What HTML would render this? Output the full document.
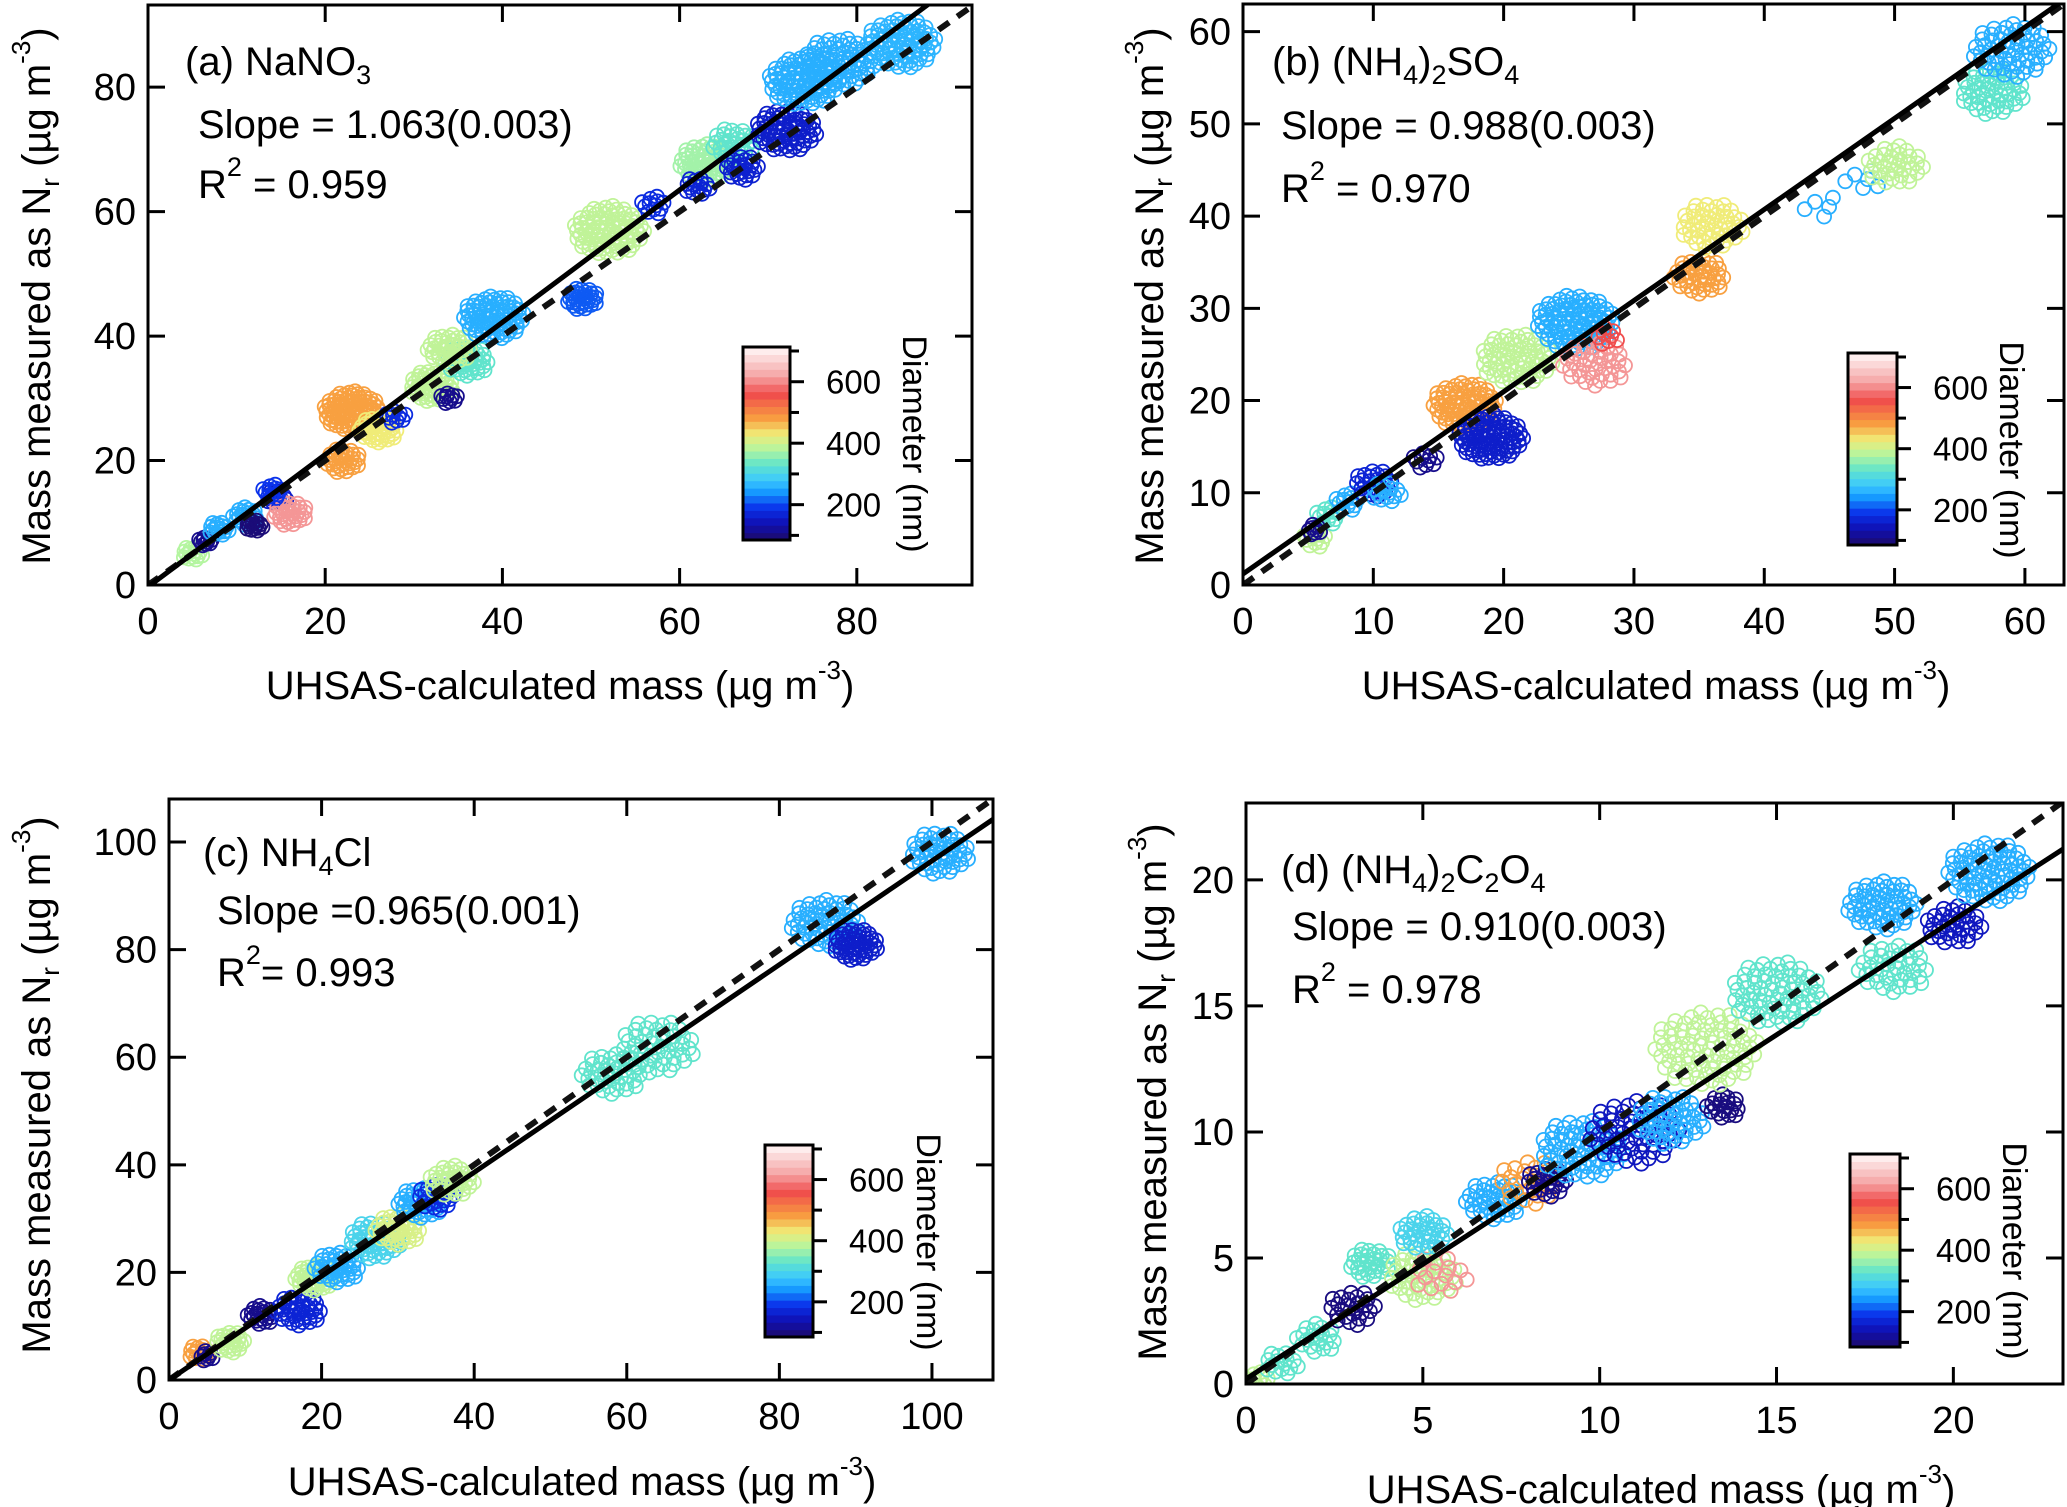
<!DOCTYPE html>
<html><head><meta charset="utf-8"><style>
html,body{margin:0;padding:0;background:#fff}
svg{display:block;font-family:"Liberation Sans",Arial,sans-serif}
</style></head><body>
<svg id="fig" width="2067" height="1507" viewBox="0 0 2067 1507" xmlns="http://www.w3.org/2000/svg"></svg>
<script>
// ---- Panel (a) NaNO3 data: cluster centres (x, y in µg m-3), spread, point count, diameter (nm)
const aX = [5,6.5,8,11,12,14.5,16,14,22,23,26,28,32,34,36,34,39,49,52,57,63,66,62,67,72,74,78,85];
const aY = [5,7,9,11,9.5,14,11.5,15,20,28,25,27,32,30,36,38,43,46,57,61,68,71,64,67,73,81,84,87];
const aS = [1.2,0.8,1.2,1.5,1,1.2,2,1.2,2,3.2,2.2,1.2,2.5,1,2.5,2.5,3.5,1.8,4,1.5,3,2.5,1.5,2,3.5,4,4,4];
const aN = [15,10,15,20,15,15,30,12,30,90,40,10,50,10,40,40,80,30,90,12,60,30,15,25,70,90,70,80];
const aD = [380,110,260,260,95,160,610,190,480,480,430,180,390,110,330,390,260,210,390,180,370,330,170,165,160,260,260,265];
const aSlope = 1.063, aIntercept = -0.3;
// ---- Panel (b) (NH4)2SO4
const bX = [5.5,6.5,5.5,8,10,11,14,17,19,21,25.5,27,28,35,36,44.5,47.5,50,57.5,59];
const bY = [5,7.5,6,9,11,10,13.5,19.5,16,24.5,28.5,24,27,33.5,39,41,44,45.5,53.5,58];
const bS = [1,1,0.6,1,1.5,1.2,1,2.5,2.5,2.8,3,2.5,1,2,2.5,1.5,1.5,2.2,2.5,3];
const bN = [12,12,8,12,25,15,10,80,90,70,100,40,8,40,50,5,6,35,50,60];
const bD = [390,330,110,260,170,260,110,480,160,390,260,610,560,480,430,260,260,390,330,260];
const bSlope = 0.988, bIntercept = 1.2;
// ---- Panel (c) NH4Cl
const cX = [4,5,8,12,17,19,22,27,30,33,35,37,58,64,86,90,101];
const cY = [5,4.5,7,12,13,19,21,26,28,33,34,37,57,62,85,81,98];
const cS = [1.5,1,2,1.8,3,2.5,3,3.5,3,3,2.5,3,4,5,4.5,3,4];
const cN = [15,8,25,20,40,40,40,50,40,40,25,35,40,50,60,50,50];
const cD = [480,110,390,110,170,390,260,300,410,260,180,390,330,330,260,160,260];
const cSlope = 0.965, cIntercept = 0;
// ---- Panel (d) (NH4)2C2O4
const dX = [0.3,1,2,3,3.5,5,5.5,5,7,8,8.5,9.5,11,12,13.5,13,15,18,18.3,20,21];
const dY = [0.1,0.8,1.8,3,4.8,4.3,4.3,6,7.3,8,8,9.3,10,10.5,11,13.3,15.5,19,16.5,18.2,20.3];
const dS = [0.4,0.5,0.6,0.7,0.6,1,0.8,0.7,0.8,0.9,0.6,1.2,1.3,1,0.5,1.5,1.3,1,1,0.8,1.2];
const dN = [12,15,20,25,30,50,15,35,40,25,25,70,60,50,20,80,70,60,40,35,80];
const dD = [390,330,330,100,330,390,610,300,260,480,110,260,150,260,100,390,330,260,330,150,260];
const dSlope = 0.91, dIntercept = 0.2;
// ---- Tick labels
const aTicks = [0,20,40,60,80];
const bTicks = [0,10,20,30,40,50,60];
const cTicks = [0,20,40,60,80,100];
const dTicks = [0,5,10,15,20];
const cbTicks = [200,400,600];
const cbMinor = [100,300,500,700];

const NS = 'http://www.w3.org/2000/svg';
const svg = document.getElementById('fig');
function el(tag, attrs, parent){const e=document.createElementNS(NS,tag);for(const k in attrs)e.setAttribute(k,attrs[k]);(parent||svg).appendChild(e);return e;}

const stops=[[80,[30,10,100]],[140,[16,16,180]],[190,[10,50,235]],[240,[20,150,255]],[280,[60,200,255]],[330,[96,228,204]],[380,[180,245,160]],[430,[240,236,120]],[480,[248,160,64]],[560,[240,76,76]],[620,[245,165,165]],[715,[255,250,250]]];
function cmap(v){
  if(v<=stops[0][0])return 'rgb('+stops[0][1]+')';
  for(let i=1;i<stops.length;i++){if(v<=stops[i][0]){const t=(v-stops[i-1][0])/(stops[i][0]-stops[i-1][0]);const a=stops[i-1][1],b=stops[i][1];return 'rgb('+a.map((c,j)=>Math.round(c+(b[j]-c)*t)).join(',')+')';}}
  return 'rgb('+stops[stops.length-1][1]+')';
}

const panels=[
 {id:'a',L:148,R:972,T:5,B:585,xmax:93,ymax:93.2,X:aX,Y:aY,S:aS,N:aN,D:aD,slope:aSlope,icpt:aIntercept,ticks:aTicks,
  cb:[743,347,790,540],cbLabX:903,cbLabY:444,yTitX:50,yTitY:296,xTitX:560,xTitY:699,
  lab:[185,75],sl:'Slope = 1.063(0.003)',slp:[198,138],r2:' = 0.959',r2p:[198,198]},
 {id:'b',L:1243,R:2064,T:4,B:585,xmax:63,ymax:63,X:bX,Y:bY,S:bS,N:bN,D:bD,slope:bSlope,icpt:bIntercept,ticks:bTicks,
  cb:[1848,353,1897,545],cbLabX:2000,cbLabY:450,yTitX:1163,yTitY:296,xTitX:1656,xTitY:699,
  lab:[1272,75],sl:'Slope = 0.988(0.003)',slp:[1281,139],r2:' = 0.970',r2p:[1281,202]},
 {id:'c',L:169,R:993,T:799,B:1380,xmax:108,ymax:108,X:cX,Y:cY,S:cS,N:cN,D:cD,slope:cSlope,icpt:cIntercept,ticks:cTicks,
  cb:[765,1145,813,1337],cbLabX:917,cbLabY:1242,yTitX:50,yTitY:1085,xTitX:582,xTitY:1495,
  lab:[203,866],sl:'Slope =0.965(0.001)',slp:[217,924],r2:'= 0.993',r2p:[217,986]},
 {id:'d',L:1246,R:2063,T:803,B:1384,xmax:23.1,ymax:23.05,X:dX,Y:dY,S:dS,N:dN,D:dD,slope:dSlope,icpt:dIntercept,ticks:dTicks,
  cb:[1850,1154,1900,1347],cbLabX:2003,cbLabY:1251,yTitX:1166,yTitY:1092,xTitX:1661,xTitY:1503,
  lab:[1281,883],sl:'Slope = 0.910(0.003)',slp:[1292,940],r2:' = 0.978',r2p:[1292,1003]}
];

panels.forEach(p=>{
  const g=el('g',{});
  
  
  const sx=v=>p.L+(p.R-p.L)*v/p.xmax, sy=v=>p.B-(p.B-p.T)*v/p.ymax;
  const cp=el('clipPath',{id:'clip'+p.id},g);
  el('rect',{x:p.L,y:p.T,width:p.R-p.L,height:p.B-p.T},cp);
  const pts=el('g',{'clip-path':'url(#clip'+p.id+')'},g);
  
  
  for(let k=0;k<p.X.length;k++){
    const col=cmap(p.D[k]);
    for(let i=0;i<p.N[k];i++){
      const r=Math.sqrt((i+0.5)/p.N[k])*p.S[k], th=i*2.39996;
      const c=el('circle',{cx:sx(p.X[k]+r*Math.cos(th)).toFixed(1),cy:sy(p.Y[k]+r*Math.sin(th)).toFixed(1),r:7,fill:'none',stroke:col,'stroke-width':1.8},pts);
      
      
    }
  }
  const ln=el('g',{'clip-path':'url(#clip'+p.id+')'},g);
  const d1=el('line',{x1:sx(0),y1:sy(0),x2:sx(p.xmax),y2:sy(p.xmax),stroke:'#111','stroke-width':6,'stroke-dasharray':'13,10'},ln);
  
  
  const f=el('line',{x1:sx(0),y1:sy(p.icpt),x2:sx(p.xmax),y2:sy(p.icpt+p.slope*p.xmax),stroke:'#000','stroke-width':5},ln);
  
  
  const fr=el('rect',{x:p.L,y:p.T,width:p.R-p.L,height:p.B-p.T,fill:'none',stroke:'#000','stroke-width':3},g);
  
  
  p.ticks.forEach(t=>{
    const x=sx(t),y=sy(t);
    el('line',{x1:x,y1:p.B,x2:x,y2:p.B-17,stroke:'#000','stroke-width':3},g);
    el('line',{x1:x,y1:p.T,x2:x,y2:p.T+17,stroke:'#000','stroke-width':3},g);
    el('line',{x1:p.L,y1:y,x2:p.L+17,y2:y,stroke:'#000','stroke-width':3},g);
    el('line',{x1:p.R,y1:y,x2:p.R-17,y2:y,stroke:'#000','stroke-width':3},g);
    const tx=el('text',{x:x,y:p.B+49,'font-size':38,'text-anchor':'middle'},g);tx.textContent=t;
    
    
    const ty=el('text',{x:p.L-12,y:y+13,'font-size':38,'text-anchor':'end'},g);ty.textContent=t;
    
    
  });
  const xt=el('text',{x:p.xTitX,y:p.xTitY,'font-size':40,'text-anchor':'middle'},g);
  xt.innerHTML='UHSAS-calculated mass (µg m<tspan font-size="26" dy="-20">-3</tspan><tspan dy="20">)</tspan>';
  
  
  const yt=el('text',{x:0,y:0,'font-size':40,'text-anchor':'middle',transform:'translate('+p.yTitX+','+p.yTitY+') rotate(-90)'},g);
  yt.innerHTML='Mass measured as N<tspan font-size="26" dy="9">r</tspan><tspan dy="-9"> (µg m</tspan><tspan font-size="26" dy="-20">-3</tspan><tspan dy="20">)</tspan>';
  
  
  const lb=el('text',{x:p.lab[0],y:p.lab[1],'font-size':40},g);
  const sub=s=>'<tspan font-size="27" dy="9">'+s+'</tspan><tspan dy="-9">';
  if(p.id==='a') lb.innerHTML='(a) NaNO'+sub('3')+'</tspan>';
  if(p.id==='b') lb.innerHTML='(b) (NH'+sub('4')+')</tspan>'+sub('2')+'SO</tspan>'+sub('4')+'</tspan>';
  if(p.id==='c') lb.innerHTML='(c) NH'+sub('4')+'Cl</tspan>';
  if(p.id==='d') lb.innerHTML='(d) (NH'+sub('4')+')</tspan>'+sub('2')+'C</tspan>'+sub('2')+'O</tspan>'+sub('4')+'</tspan>';
  
  
  const sl=el('text',{x:p.slp[0],y:p.slp[1],'font-size':40},g);sl.textContent=p.sl;
  
  
  const r2=el('text',{x:p.r2p[0],y:p.r2p[1],'font-size':40},g);
  r2.innerHTML='R<tspan font-size="27" dy="-22">2</tspan><tspan dy="22">'+p.r2+'</tspan>';
  
  
  const [x0,y0,x1,y1]=p.cb, vmin=85, vmax=713;
  const cy=v=>y1-(y1-y0)*(v-vmin)/(vmax-vmin);
  const cbg=el('g',{},g);
  
  
  const nb=26;
  for(let i=0;i<nb;i++){
    const v0=vmin+(vmax-vmin)*i/nb, v1=vmin+(vmax-vmin)*(i+1)/nb;
    el('rect',{x:x0,y:cy(v1),width:x1-x0,height:cy(v0)-cy(v1)+0.6,fill:cmap((v0+v1)/2)},cbg);
  }
  el('rect',{x:x0,y:y0,width:x1-x0,height:y1-y0,fill:'none',stroke:'#000','stroke-width':3},cbg);
  cbTicks.forEach(t=>{
    el('line',{x1:x1,y1:cy(t),x2:x1+14,y2:cy(t),stroke:'#000','stroke-width':3},cbg);
    const tl=el('text',{x:x1+36,y:cy(t)+12,'font-size':33},cbg);tl.textContent=t;
    
    
  });
  cbMinor.forEach(t=>el('line',{x1:x1,y1:cy(t),x2:x1+9,y2:cy(t),stroke:'#000','stroke-width':3},cbg));
  const ct=el('text',{x:0,y:0,'font-size':34,'text-anchor':'middle',transform:'translate('+p.cbLabX+','+p.cbLabY+') rotate(90)'},cbg);
  ct.textContent='Diameter (nm)';
  
  
});
</script>
</body></html>
